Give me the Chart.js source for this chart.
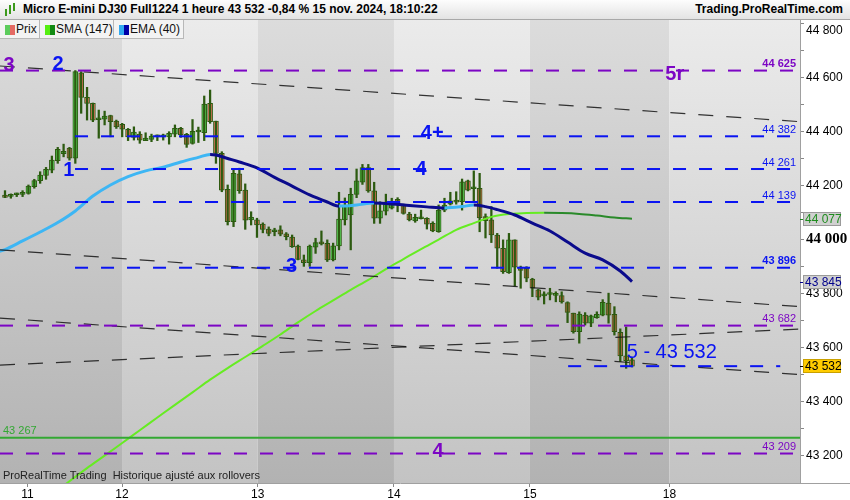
<!DOCTYPE html>
<html>
<head>
<meta charset="utf-8">
<script src="https://cdn.jsdelivr.net/npm/chart.js@4.4.1/dist/chart.umd.min.js"></script>
<style>
  body { margin: 0; background: #fff; }
  #wrap { position: relative; width: 850px; height: 500px; overflow: hidden; font-family: "Liberation Sans", Arial, sans-serif; }
  #c { position: absolute; left: 0; top: 0; }
  #title { position: absolute; left: 0; top: 0; width: 850px; height: 19px; border-bottom: 1px solid #a8a8a8;
           background: linear-gradient(#fdfdfd, #e3e3e3); font-weight: bold; font-size: 12px; line-height: 19px; color: #000; }
  #title .l { position: absolute; left: 23px; top: 0; }
  #title .r { position: absolute; right: 7px; top: 0; }
  .ico { position: absolute; width: 2px; background: #3c9a1c; }
  .lg { position: absolute; top: 20px; height: 19px; background: #f3f3f3; border-right: 1px solid #b8b8b8; border-bottom: 1px solid #b8b8b8;
        font-size: 12px; line-height: 19px; color: #111; box-sizing: border-box; }
  .lg i { position: absolute; left: 5px; top: 5px; width: 10px; height: 10px; }
  .lg span { position: absolute; left: 16px; top: 0; }
  #foot { position: absolute; left: 3px; top: 469px; font-size: 11px; color: #222; }
</style>
</head>
<body>
<div id="wrap">
  <canvas id="c" width="850" height="500"></canvas>
  <div id="title">
    <div class="ico" style="left:5px;top:9px;height:7px"></div>
    <div class="ico" style="left:9px;top:5px;height:9px"></div>
    <div class="ico" style="left:13px;top:3px;height:8px"></div>
    <span class="l">Micro E-mini DJ30 Full1224 1 heure 43 532 -0,84 % 15 nov. 2024, 18:10:22</span>
    <span class="r">Trading.ProRealTime.com</span>
  </div>
  <div class="lg" style="left:0;width:40px"><i style="background:linear-gradient(90deg,#5ccc5c 50%,#e46a64 50%)"></i><span>Prix</span></div>
  <div class="lg" style="left:40px;width:74px"><i style="background:linear-gradient(90deg,#55ee11 50%,#138a13 50%)"></i><span>SMA (147)</span></div>
  <div class="lg" style="left:114px;width:70px"><i style="background:linear-gradient(90deg,#33aaf0 50%,#0000a8 50%)"></i><span>EMA (40)</span></div>
  <div id="foot">ProRealTime Trading&nbsp; Historique ajusté aux rollovers</div>
</div>
<script>
// hourly candles, index 0 = first visible bar
const opens = [44165,44160,44166,44167,44171,44196,44218,44237,44257,44292,
  44318,44338,44301,44617,44526,44504,44443,44445,44459,44438,
  44426,44408,44378,44390,44366,44370,44380,44380,44380,44390,
  44411,44389,44356,44398,44395,44504,44438,44319,44186,44066,
  44243,44183,44073,44073,44057,44039,44029,44036,44021,44009,
  43976,43925,43915,43972,43991,43986,43925,43977,44073,44091,
  44167,44212,44266,44180,44079,44105,44116,44149,44128,44094,
  44069,44077,44079,44060,44029,44109,44131,44146,44140,44217,
  44188,44190,44085,44073,44017,43968,43878,43999,43898,43894,
  43854,43814,43792,43797,43794,43793,43767,43728,43660,43721,
  43691,43711,43721,43765,43724,43657,43570,43555];
const highs = [44181,44169,44172,44181,44202,44223,44251,44267,44309,44341,
  44353,44341,44625,44621,44563,44505,44479,44475,44460,44442,
  44430,44411,44417,44399,44395,44390,44387,44390,44399,44424,
  44415,44393,44444,44416,44531,44553,44438,44325,44202,44257,
  44264,44206,44103,44079,44062,44047,44042,44051,44026,44017,
  43980,43943,43980,44005,44032,43999,43987,44175,44154,44190,
  44261,44278,44278,44212,44140,44168,44153,44155,44131,44101,
  44094,44109,44081,44066,44128,44153,44175,44177,44224,44220,
  44254,44245,44095,44122,44023,43999,44023,43999,43902,43900,
  43857,43816,43807,43820,43807,43807,43770,43728,43733,43730,
  43721,43733,43778,43802,43752,43670,43677,43562];
const lows = [44155,44153,44159,44159,44168,44190,44208,44223,44247,44282,
  44306,44294,44282,44467,44442,44436,44375,44424,44380,44411,
  44380,44366,44368,44356,44366,44362,44366,44368,44353,44380,
  44378,44341,44353,44359,44366,44430,44282,44177,44054,44048,
  44171,44038,44054,44008,44025,44014,44014,44014,43999,43971,
  43925,43901,43901,43949,43980,43919,43921,43962,44054,43962,
  44155,44204,44175,44060,44060,44091,44113,44103,44094,44069,
  44064,44076,44039,44029,44027,44103,44128,44131,44109,44180,
  44140,44029,44006,43989,43894,43875,43875,43828,43820,43844,
  43789,43777,43762,43777,43770,43765,43693,43654,43617,43684,
  43678,43709,43718,43691,43647,43549,43524,43529];
const closes = [44156,44162,44168,44170,44198,44218,44239,44260,44294,44334,
  44326,44301,44621,44526,44504,44442,44446,44457,44436,44417,
  44408,44380,44398,44368,44375,44383,44382,44382,44393,44411,
  44387,44352,44400,44403,44501,44436,44319,44183,44066,44245,
  44181,44072,44082,44054,44038,44023,44036,44020,44011,43974,
  43927,43915,43976,43989,43984,43925,43977,44076,44128,44167,
  44217,44266,44180,44079,44106,44131,44134,44134,44097,44073,
  44082,44079,44057,44032,44109,44128,44143,44138,44214,44183,
  44190,44080,44070,44017,43968,43881,43999,43898,43886,43857,
  43820,43787,43794,43800,43796,43770,43731,43660,43725,43691,
  43718,43724,43768,43721,43660,43570,43552,43532];

// moving averages (bar index, value)
const emaIdx = [-1,0,3,6,9,12,15,18,21,24,27,30,33,35,36,38,40,43,46,49,52,55,57,60,63,66,69,72,75,78,80,82,84,87,90,93,96,99,102,105,107];
const emaVals = [43956,43963,43995,44028,44063,44106,44161,44202,44233,44254,44268,44287,44304,44315,44313,44300,44287,44265,44230,44198,44165,
  44139,44124,44128,44135,44132,44126,44121,44117,44122,44128,44122,44111,44091,44061,44032,43991,43950,43925,43884,43845];
const smaIdx = [10,14,17,20,23,26,29,32,35,38,41,44,47,50,53,56,59,62,65,68,71,74,77,80,83,86,89,92,95,98,101,104,107];
const smaVals = [43090,43155,43201,43248,43295,43342,43389,43435,43482,43525,43566,43607,43649,43694,43736,43775,43814,43851,43891,43928,
  43965,44000,44036,44061,44084,44095,44098,44099,44098,44095,44089,44082,44077];

// drawn levels and trend lines
const blueLevels = [44382, 44261, 44139, 43896];
const purpleLevels = [44625, 43682, 43209];
const greenLevel = 43267;
const targetLevel = 43532;
const trendStart = [44642, 43962, 43710, 43536];
const trendEnd = [44436, 43752, 43501, 43669];

// day ticks (bar index position)
const tickPos = [3.84, 19.97, 43.12, 66.38, 89.59, 113.4];
const tickLabels = ['11', '12', '13', '14', '15', '18'];
const dayStarts = [19.97, 43.12, 66.38, 89.59, 113.4];

const xMin = -0.853, xMax = 135.67;
const BLUE = '#0a14f2', PURPLE = '#7c06c4', GREEN = '#33a833', EDGE = '#2c5a10';
const FONT = '"Liberation Sans", Arial, sans-serif';
const fmt = v => String(Math.round(v)).replace(/\B(?=(\d{3})+(?!\d))/g, ' ');

const idx = opens.map((_, i) => i);

const flat = (v, a, b, color, width, dash) => ({
  type: 'line', data: [{x: a, y: v}, {x: b, y: v}], borderColor: color, borderWidth: width,
  borderDash: dash, pointRadius: 0, order: 1
});

const sets = [];
purpleLevels.forEach(v => sets.push(flat(v, xMin, xMax, PURPLE, 2, [13, 13])));
blueLevels.forEach(v => sets.push(flat(v, 11.95, xMax, BLUE, 2, [13, 13])));
sets.push(flat(greenLevel, xMin, xMax, GREEN, 2, []));
sets.push(flat(targetLevel, 96.1, 132.3, BLUE, 2, [13, 13]));
trendStart.forEach((v, i) => sets.push({
  type: 'line', data: [{x: xMin, y: v}, {x: xMax, y: trendEnd[i]}], borderColor: 'rgba(20,20,20,0.85)',
  borderWidth: 1.2, borderDash: [15, 13], pointRadius: 0, order: 1
}));

sets.push({
  type: 'line', data: emaIdx.map((k, i) => ({x: k, y: emaVals[i]})), borderWidth: 3, pointRadius: 0,
  cubicInterpolationMode: 'monotone', order: 2, borderColor: '#0b0b8c',
  segment: { borderColor: c => c.p1.parsed.y < c.p0.parsed.y ? '#0b0b8c' : '#3db6f4' }
});
sets.push({
  type: 'line', data: smaIdx.map((k, i) => ({x: k, y: smaVals[i]})), borderWidth: 2, pointRadius: 0,
  cubicInterpolationMode: 'monotone', order: 2, borderColor: '#2a8a2a',
  segment: { borderColor: c => c.p1.parsed.y < c.p0.parsed.y ? '#2a8a2a' : '#66ec22' }
});

sets.push({
  type: 'bar', data: idx.map(i => ({x: i, y: [lows[i], highs[i]]})), backgroundColor: EDGE,
  barThickness: 1.6, borderWidth: 0, grouped: false, order: 3
});
sets.push({
  type: 'bar', data: idx.map(i => ({x: i, y: [opens[i], closes[i]]})),
  backgroundColor: idx.map(i => closes[i] >= opens[i] ? '#5cd65c' : '#e8735f'),
  borderColor: EDGE, borderWidth: 1, borderSkipped: false, barThickness: 5, minBarLength: 2,
  grouped: false, order: 3
});

const bgPlugin = {
  id: 'bands',
  beforeDraw(chart) {
    const {ctx, chartArea: a, scales: {x}} = chart;
    ctx.save();
    ctx.fillStyle = '#fff';
    ctx.fillRect(0, 0, chart.width, chart.height);
    const dark = ctx.createLinearGradient(0, a.top, 0, a.bottom);
    dark.addColorStop(0, '#dcdcdc'); dark.addColorStop(1, '#b2b2b2');
    const light = ctx.createLinearGradient(0, a.top, 0, a.bottom);
    light.addColorStop(0, '#ebebeb'); light.addColorStop(1, '#c3c3c3');
    const edges = [xMin, ...dayStarts, xMax];
    for (let i = 0; i < edges.length - 1; i++) {
      const x0 = x.getPixelForValue(edges[i]), x1 = x.getPixelForValue(edges[i + 1]);
      ctx.fillStyle = i % 2 === 0 ? dark : light;
      ctx.fillRect(x0, a.top, x1 - x0, a.bottom - a.top);
    }
    ctx.restore();
  }
};

const notes = [
  {t: '3', k: 0.68, v: 44642, c: PURPLE},
  {t: '2', k: 9.04, v: 44649, c: BLUE},
  {t: '1', k: 10.9, v: 44257, c: BLUE},
  {t: '3', k: 48.9, v: 43902, c: BLUE},
  {t: '4+', k: 72.9, v: 44394, c: BLUE},
  {t: '4', k: 71.0, v: 44261, c: BLUE},
  {t: '4', k: 73.9, v: 43215, c: PURPLE},
  {t: '5r', k: 114.3, v: 44609, c: PURPLE}
];

const decoPlugin = {
  id: 'deco',
  afterDatasetsDraw(chart) {
    const {ctx, chartArea: a, scales: {x, y}} = chart;
    ctx.save();
    ctx.beginPath(); ctx.rect(a.left, a.top, a.right - a.left, a.bottom - a.top); ctx.clip();
    ctx.textAlign = 'right'; ctx.textBaseline = 'bottom';
    const lab = (v, color, bold) => {
      ctx.font = (bold ? 'bold ' : '') + '11px ' + FONT;
      ctx.fillStyle = color;
      ctx.fillText(fmt(v), a.right - 4, y.getPixelForValue(v) - 1);
    };
    purpleLevels.forEach((v, i) => lab(v, PURPLE, i === 0));
    blueLevels.forEach((v, i) => lab(v, BLUE, i === 3));
    ctx.textAlign = 'left';
    ctx.font = '11px ' + FONT; ctx.fillStyle = GREEN;
    ctx.fillText(fmt(greenLevel), a.left + 3, y.getPixelForValue(greenLevel) - 1);

    ctx.textAlign = 'center'; ctx.textBaseline = 'middle';
    ctx.font = 'bold 20px ' + FONT;
    notes.forEach(n => {
      ctx.fillStyle = n.c;
      ctx.fillText(n.t, x.getPixelForValue(n.k), y.getPixelForValue(n.v));
    });
    ctx.textAlign = 'left';
    ctx.font = '20px ' + FONT; ctx.fillStyle = BLUE;
    ctx.fillText('5 - ' + fmt(targetLevel), x.getPixelForValue(106.1), y.getPixelForValue(43581));
    ctx.restore();
  },
  afterDraw(chart) {
    const {ctx, chartArea: a, scales: {y}} = chart;
    ctx.save();
    ctx.strokeStyle = '#a0a0a0'; ctx.lineWidth = 1;
    ctx.beginPath(); ctx.moveTo(a.right, a.bottom + 0.5); ctx.lineTo(chart.width, a.bottom + 0.5); ctx.stroke();
    const boxes = [
      {v: smaVals[smaVals.length - 1], bg: '#d0d0d0', bd: '#9a9a9a', fg: '#1e8c1e'},
      {v: emaVals[emaVals.length - 1], bg: '#d0d0d0', bd: '#9a9a9a', fg: '#00008c'},
      {v: closes[closes.length - 1], bg: '#ffcc00', bd: '#c9a000', fg: '#000'}
    ];
    ctx.font = '12px ' + FONT; ctx.textAlign = 'left'; ctx.textBaseline = 'middle';
    boxes.forEach(b => {
      const py = Math.round(y.getPixelForValue(b.v));
      ctx.fillStyle = b.bg; ctx.fillRect(a.right + 3, py - 7, 38, 14);
      ctx.strokeStyle = b.bd; ctx.strokeRect(a.right + 3.5, py - 6.5, 37, 13);
      ctx.fillStyle = b.fg; ctx.fillRect(a.right, py, 3, 1);
      ctx.fillText(fmt(b.v), a.right + 5, py + 0.5);
    });
    ctx.restore();
  }
};

new Chart(document.getElementById('c'), {
  type: 'bar',
  data: { datasets: sets },
  options: {
    responsive: false,
    animation: false,
    devicePixelRatio: 1,
    layout: { padding: { top: 20, left: 0, right: 0, bottom: 0 } },
    plugins: { legend: { display: false }, tooltip: { enabled: false } },
    scales: {
      x: {
        type: 'linear', min: xMin, max: xMax, offset: false,
        afterBuildTicks: s => { s.ticks = tickPos.map(v => ({ value: v })); },
        afterFit: s => { s.height = 17; },
        ticks: { autoSkip: false, maxRotation: 0, padding: 0, color: '#000',
                 font: { family: FONT, size: 12 }, callback: (v, i) => tickLabels[i] },
        grid: { drawOnChartArea: false, offset: false, tickLength: 4, color: '#888' },
        border: { color: '#a0a0a0' }
      },
      y: {
        position: 'right', min: 43100, max: 44812,
        afterFit: s => { s.width = 50; },
        ticks: {
          stepSize: 100, includeBounds: false, autoSkip: false, padding: 2, color: '#000',
          font: c => (c.tick && c.tick.value === 44000)
            ? { family: '"Liberation Serif", serif', size: 15, weight: 'bold' }
            : { family: FONT, size: 12 },
          callback: v => v % 200 !== 0 ? '' : (v === 44800 ? ['', fmt(v)] : fmt(v))
        },
        grid: { drawOnChartArea: false, tickLength: 4, color: '#888' },
        border: { color: '#a0a0a0' }
      }
    }
  },
  plugins: [bgPlugin, decoPlugin]
});
</script>
</body>
</html>
